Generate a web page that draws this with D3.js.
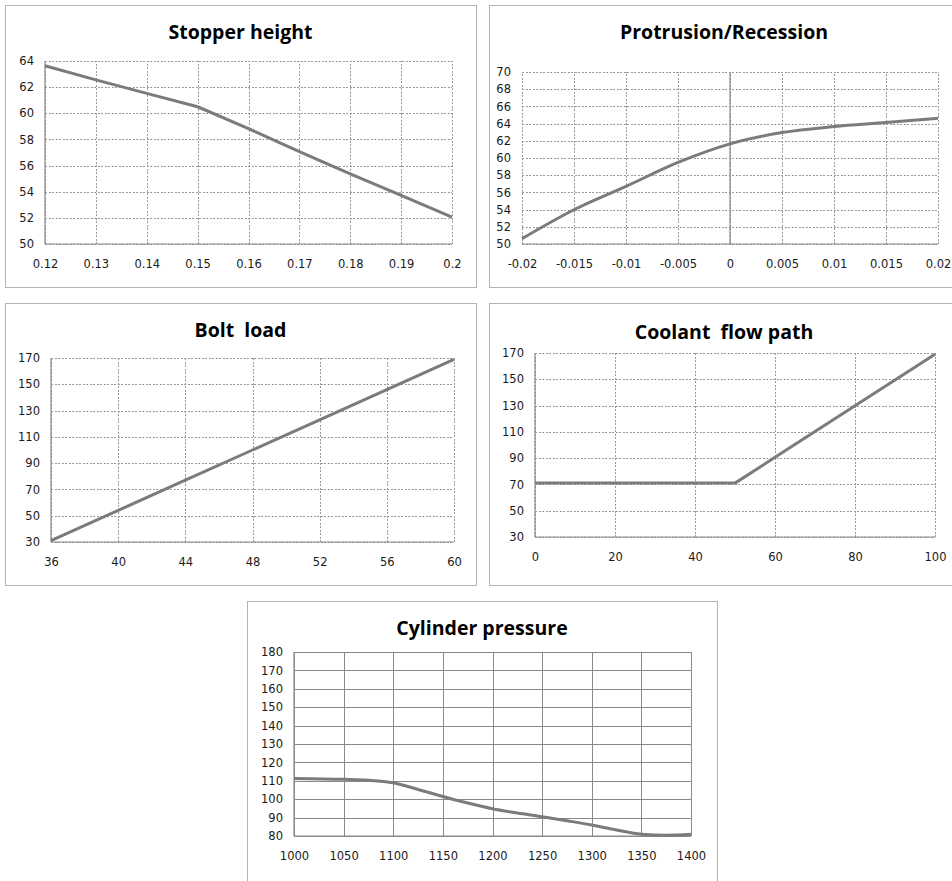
<!DOCTYPE html>
<html>
<head>
<meta charset="utf-8">
<script src="https://cdn.jsdelivr.net/npm/d3@7"></script>
<style>
  html, body { margin: 0; padding: 0; background: #fff; }
  svg { display: block; }
</style>
</head>
<body>
<svg id="chart" width="952" height="881"></svg>
<script>
// ---------- DATA ----------
const stopperTitle = "Stopper height";
const stopperX = [0.12, 0.13, 0.14, 0.15, 0.16, 0.17, 0.18, 0.19, 0.2];
const stopperY = [63.64, 62.56, 61.52, 60.5, 58.83, 57.06, 55.36, 53.72, 52.05];
const stopperXTicks = [0.12, 0.13, 0.14, 0.15, 0.16, 0.17, 0.18, 0.19, 0.2];
const stopperYTicks = [50, 52, 54, 56, 58, 60, 62, 64];

const protrusionTitle = "Protrusion/Recession";
const protrusionX = [-0.02, -0.015, -0.01, -0.005, 0, 0.005, 0.01, 0.015, 0.02];
const protrusionY = [50.62, 53.98, 56.7, 59.48, 61.64, 62.96, 63.66, 64.12, 64.62];
const protrusionXTicks = [-0.02, -0.015, -0.01, -0.005, 0, 0.005, 0.01, 0.015, 0.02];
const protrusionYTicks = [50, 52, 54, 56, 58, 60, 62, 64, 66, 68, 70];

const boltTitle = "Bolt  load";
const boltX = [36, 40, 44, 48, 52, 56, 60];
const boltY = [31, 54, 77, 100, 123, 146, 169];
const boltXTicks = [36, 40, 44, 48, 52, 56, 60];
const boltYTicks = [30, 50, 70, 90, 110, 130, 150, 170];

const coolantTitle = "Coolant  flow path";
const coolantX = [0, 10, 20, 30, 40, 50, 60, 70, 80, 90, 100];
const coolantY = [71, 71, 71, 71, 71, 71, 90.6, 110.2, 129.8, 149.4, 169];
const coolantXTicks = [0, 20, 40, 60, 80, 100];
const coolantYTicks = [30, 50, 70, 90, 110, 130, 150, 170];

const cylinderTitle = "Cylinder pressure";
const cylinderX = [1000, 1050, 1075, 1100, 1125, 1150, 1175, 1200, 1225, 1250, 1275, 1300, 1325, 1350, 1375, 1400];
const cylinderY = [111.3, 110.8, 110.3, 108.9, 105.3, 101.5, 97.9, 94.8, 92.5, 90.5, 88.3, 86.0, 83.3, 81.0, 80.4, 80.9];
const cylinderXTicks = [1000, 1050, 1100, 1150, 1200, 1250, 1300, 1350, 1400];
const cylinderYTicks = [80, 90, 100, 110, 120, 130, 140, 150, 160, 170, 180];

// ---------- LAYOUT ----------
const svg = d3.select("#chart");
const TICK_FONT = "DejaVu Sans";
const TITLE_FONT = "Open Sans";
const LINE_COLOR = "#7b7b7b";
const GRID_COLOR = "#9a9a9a";
const fmt = v => String(v);

function panel(cfg) {
  const g = svg.append("g");
  g.append("rect")
    .attr("x", cfg.box.x + 0.5).attr("y", cfg.box.y + 0.5)
    .attr("width", cfg.box.w).attr("height", cfg.box.h)
    .attr("fill", "#fff").attr("stroke", "#b4b4b4").attr("stroke-width", 1);

  g.append("text")
    .attr("x", cfg.box.x + cfg.box.w / 2)
    .attr("y", cfg.titleY)
    .attr("text-anchor", "middle")
    .attr("dominant-baseline", "central")
    .style("font-family", TITLE_FONT)
    .style("font-weight", "bold")
    .style("font-size", "19.5px")
    .style("white-space", "pre")
    .attr("fill", "#000")
    .text(cfg.title);

  const x = d3.scaleLinear().domain(cfg.xDomain).range([cfg.plot.l, cfg.plot.r]);
  const y = d3.scaleLinear().domain(cfg.yDomain).range([cfg.plot.b, cfg.plot.t]);

  const dash = cfg.solidGrid ? null : "2,1.5";
  const gridColor = cfg.solidGrid ? "#8a8a8a" : GRID_COLOR;

  const vx = g.append("g").attr("transform", `translate(0,${cfg.plot.b})`)
    .call(d3.axisBottom(x).tickValues(cfg.xTicks).tickSize(-(cfg.plot.b - cfg.plot.t)).tickFormat(""));
  vx.select(".domain").remove();
  vx.selectAll("line").attr("stroke", gridColor).attr("stroke-dasharray", dash).attr("shape-rendering", "crispEdges");

  const hy = g.append("g").attr("transform", `translate(${cfg.plot.l},0)`)
    .call(d3.axisLeft(y).tickValues(cfg.yTicks).tickSize(-(cfg.plot.r - cfg.plot.l)).tickFormat(""));
  hy.select(".domain").remove();
  hy.selectAll("line").attr("stroke", gridColor).attr("stroke-dasharray", dash).attr("shape-rendering", "crispEdges");

  const xCross = cfg.yAxisAt !== undefined ? x(cfg.yAxisAt) : cfg.plot.l;
  g.append("line")
    .attr("x1", cfg.plot.l).attr("x2", cfg.plot.r)
    .attr("y1", cfg.plot.b).attr("y2", cfg.plot.b)
    .attr("stroke", "#8a8a8a").attr("stroke-width", 1.2);
  g.append("line")
    .attr("x1", xCross).attr("x2", xCross)
    .attr("y1", cfg.plot.t).attr("y2", cfg.plot.b)
    .attr("stroke", "#8a8a8a").attr("stroke-width", 1.2);

  const ax = g.append("g").attr("transform", `translate(0,${cfg.plot.b + 16})`)
    .call(d3.axisBottom(x).tickValues(cfg.xTicks).tickSize(0).tickPadding(0).tickFormat(fmt));
  ax.select(".domain").remove();
  ax.attr("font-family", null).attr("font-size", null);
  ax.selectAll("text").style("font-family", TICK_FONT).style("font-size", "11.5px").attr("fill", "#1a1a1a");

  const ay = g.append("g").attr("transform", `translate(${cfg.plot.l - 11},0)`)
    .call(d3.axisLeft(y).tickValues(cfg.yTicks).tickSize(0).tickPadding(0).tickFormat(fmt));
  ay.select(".domain").remove();
  ay.attr("font-family", null).attr("font-size", null);
  ay.selectAll("text").style("font-family", TICK_FONT).style("font-size", "11.5px").attr("fill", "#1a1a1a");

  const data = cfg.xs.map((v, i) => [v, cfg.ys[i]]);
  const line = d3.line().x(d => x(d[0])).y(d => y(d[1])).curve(cfg.curve || d3.curveLinear);
  g.append("path")
    .datum(data)
    .attr("d", line)
    .attr("fill", "none")
    .attr("stroke", LINE_COLOR)
    .attr("stroke-width", 3)
    .attr("stroke-linejoin", "round");
}

panel({
  title: stopperTitle, xs: stopperX, ys: stopperY,
  xTicks: stopperXTicks, yTicks: stopperYTicks,
  xDomain: [0.12, 0.2], yDomain: [50, 64],
  box: {x: 5, y: 5, w: 471, h: 282}, titleY: 31,
  plot: {l: 45, t: 61, r: 452, b: 244}
});

panel({
  title: protrusionTitle, xs: protrusionX, ys: protrusionY,
  xTicks: protrusionXTicks, yTicks: protrusionYTicks,
  xDomain: [-0.02, 0.02], yDomain: [50, 70],
  box: {x: 489, y: 5, w: 470, h: 282}, titleY: 31,
  plot: {l: 522, t: 72, r: 938, b: 244},
  yAxisAt: 0,
  curve: d3.curveMonotoneX
});

panel({
  title: boltTitle, xs: boltX, ys: boltY,
  xTicks: boltXTicks, yTicks: boltYTicks,
  xDomain: [36, 60], yDomain: [30, 170],
  box: {x: 5, y: 303, w: 471, h: 282}, titleY: 329,
  plot: {l: 51, t: 358, r: 454, b: 542}
});

panel({
  title: coolantTitle, xs: coolantX, ys: coolantY,
  xTicks: coolantXTicks, yTicks: coolantYTicks,
  xDomain: [0, 100], yDomain: [30, 170],
  box: {x: 489, y: 303, w: 470, h: 282}, titleY: 331,
  plot: {l: 535, t: 353, r: 935, b: 537}
});

panel({
  title: cylinderTitle, xs: cylinderX, ys: cylinderY,
  xTicks: cylinderXTicks, yTicks: cylinderYTicks,
  xDomain: [1000, 1400], yDomain: [80, 180],
  box: {x: 247, y: 601, w: 470, h: 300}, titleY: 627,
  plot: {l: 294, t: 652, r: 691, b: 836},
  solidGrid: true,
  curve: d3.curveMonotoneX
});
</script>
</body>
</html>
